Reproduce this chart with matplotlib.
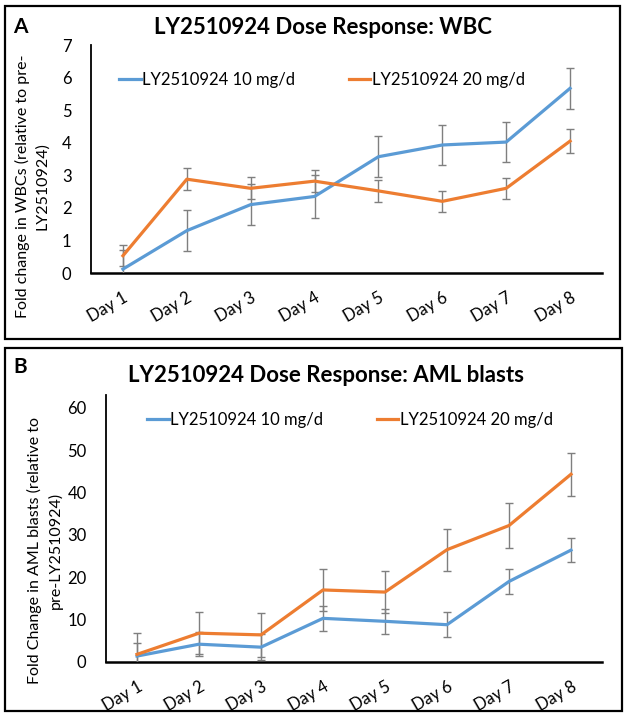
import matplotlib
matplotlib.use("Agg")
import matplotlib.pyplot as plt
from matplotlib.patches import Rectangle
from matplotlib.lines import Line2D
import numpy as np

plt.rcParams['font.family'] = ['Lato', 'DejaVu Sans']

days = ["Day 1", "Day 2", "Day 3", "Day 4", "Day 5", "Day 6", "Day 7", "Day 8"]
series_names = ["LY2510924 10 mg/d", "LY2510924 20 mg/d"]

# Panel A: WBC fold change
wbc_10 = [0.12, 1.3, 2.1, 2.35, 3.57, 3.93, 4.02, 5.67]
wbc_10_err = [0.6, 0.62, 0.62, 0.65, 0.63, 0.6, 0.62, 0.62]
wbc_20 = [0.53, 2.88, 2.6, 2.82, 2.52, 2.2, 2.6, 4.05]
wbc_20_err = [0.32, 0.34, 0.34, 0.34, 0.34, 0.33, 0.33, 0.36]

# Panel B: AML blasts fold change
aml_10 = [1.4, 4.2, 3.5, 10.3, 9.6, 8.8, 19.0, 26.4]
aml_10_err = [3.0, 2.9, 3.0, 2.9, 3.0, 3.0, 2.9, 2.9]
aml_20 = [1.8, 6.8, 6.4, 17.0, 16.5, 26.5, 32.2, 44.3]
aml_20_err = [5.0, 5.0, 5.2, 5.0, 5.0, 5.0, 5.2, 5.1]

BLUE = "#5B9BD5"
ORANGE = "#ED7D31"
ERR = "#7F7F7F"

W, H = 630, 720
fig = plt.figure(figsize=(W / 100, H / 100), dpi=100)


def fx(px):
    return px / W


def fy(py):
    return 1 - py / H


def panel(ax, y1, e1, y2, e2, ylim, yticks):
    x = np.arange(len(days))
    for y, e, c in ((y1, e1, BLUE), (y2, e2, ORANGE)):
        ax.errorbar(x, y, yerr=e, color=c, lw=2.3, ecolor=ERR, elinewidth=1.0,
                    capsize=3, capthick=1.0, zorder=3)
    ax.set_xlim(-0.5, len(days) - 0.5)
    ax.set_ylim(*ylim)
    ax.set_yticks(yticks)
    ax.set_xticks(x)
    ax.set_xticklabels(days, rotation=30, ha='right', va='top',
                       rotation_mode='anchor', fontsize=11.5)
    ax.tick_params(axis='both', length=0, labelsize=12)
    ax.tick_params(axis='y', pad=14)
    ax.tick_params(axis='x', pad=12)
    for s in ("top", "right"):
        ax.spines[s].set_visible(False)
    ax.spines['left'].set_linewidth(1.3)
    ax.spines['bottom'].set_linewidth(1.8)
    ax.patch.set_alpha(0)


# Panel A axes
axA = fig.add_axes([fx(91), fy(273), fx(602 - 91), (273 - 45) / H])
panel(axA, wbc_10, wbc_10_err, wbc_20, wbc_20_err, (0, 7), range(0, 8))

# Panel B axes
axB = fig.add_axes([fx(106), fy(662), fx(602 - 106), (662 - 395) / H])
panel(axB, aml_10, aml_10_err, aml_20, aml_20_err, (0, 63), range(0, 61, 10))

# Borders
fig.patches.append(Rectangle((fx(5), fy(339)), fx(620 - 5), (339 - 6) / H,
                             transform=fig.transFigure, fill=False, lw=1.6,
                             edgecolor='black'))
fig.patches.append(Rectangle((fx(5), fy(711)), fx(622 - 5), (711 - 348) / H,
                             transform=fig.transFigure, fill=False, lw=1.6,
                             edgecolor='black'))

# Panel letters and titles
fig.text(fx(13), fy(27), "A", fontsize=15, fontweight='bold', va='center', ha='left')
fig.text(fx(13), fy(367), "B", fontsize=15, fontweight='bold', va='center', ha='left')
fig.text(fx(323), fy(28), "LY2510924 Dose Response: WBC", fontsize=16,
         fontweight='bold', ha='center', va='center')
fig.text(fx(326), fy(375), "LY2510924 Dose Response: AML blasts", fontsize=16,
         fontweight='bold', ha='center', va='center')

# Y labels
fig.text(fx(32), fy(186), "Fold change in WBCs (relative to pre-\nLY2510924)",
         rotation=90, ha='center', va='center', multialignment='center',
         fontsize=11.5, linespacing=1.5)
fig.text(fx(45), fy(550), "Fold Change in AML blasts (relative to\npre-LY2510924)",
         rotation=90, ha='center', va='center', multialignment='center',
         fontsize=11.5, linespacing=1.5)

# Legends
for lx, ly in ((119, 80), (147, 420)):
    hs = [Line2D([], [], color=BLUE, lw=2.3), Line2D([], [], color=ORANGE, lw=2.3)]
    fig.legend(hs, series_names, loc='center left', bbox_to_anchor=(fx(lx), fy(ly)),
               bbox_transform=fig.transFigure, ncol=2, frameon=False, fontsize=12,
               handlelength=1.3, handletextpad=0.1, columnspacing=3.2,
               borderpad=0, borderaxespad=0)

fig.savefig("out.png", dpi=100)
